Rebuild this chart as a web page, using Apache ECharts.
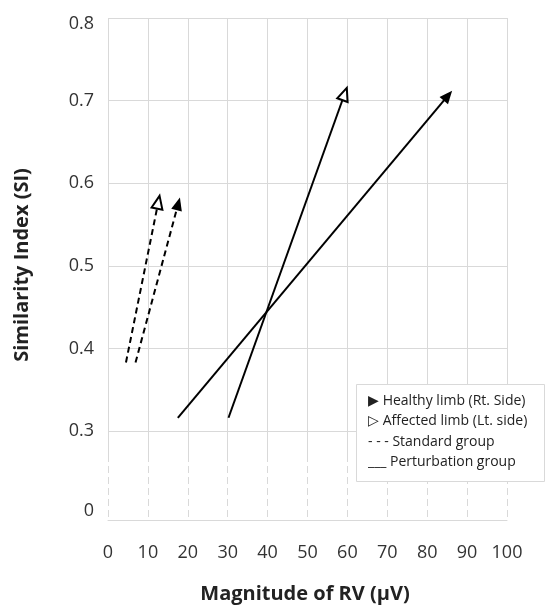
<!DOCTYPE html>
<html>
<head>
<meta charset="utf-8">
<script src="https://cdn.jsdelivr.net/npm/echarts@6/dist/echarts.min.js"></script>
<style>
  html, body { margin: 0; padding: 0; background: #fff; }
  #chart { width: 545px; height: 605px; }
</style>
</head>
<body>
<div id="chart"></div>
<script>
// each arrow: [start, end] in (RV magnitude, SI)
const stdAffectedX = [4.5, 12.6];
const stdAffectedY = [0.383, 0.577];
const stdHealthyX = [6.9, 17.6];
const stdHealthyY = [0.383, 0.575];
const pertHealthyX = [17.5, 85.2];
const pertHealthyY = [0.316, 0.706];
const pertAffectedX = [30.2, 59.3];
const pertAffectedY = [0.316, 0.708];

const legendIcons = ['\u25B6', '\u25B7', '- - -', '___'];
const legendNames = ['Healthy limb (Rt. Side)', 'Affected limb (Lt. side)', 'Standard group', 'Perturbation group'];

const FONT = 'Open Sans';
const GRID_COLOR = '#d9d9d9';
const LABEL_COLOR = '#333';

const arrow = (name, xs, ys, dashed, empty) => ({
  name: name,
  type: 'line',
  xAxisIndex: 0,
  yAxisIndex: 0,
  data: xs.map((x, i) => [x, ys[i]]),
  symbol: 'none',
  lineStyle: { opacity: 0 },
  animation: false,
  markLine: {
    silent: true,
    animation: false,
    symbol: ['none', empty ? 'emptyTriangle' : 'triangle'],
    symbolSize: [11, 13],
    label: { show: false },
    lineStyle: { color: '#000', width: 2, type: dashed ? [6, 4] : 'solid' },
    data: [[{ coord: [xs[0], ys[0]] }, { coord: [xs[1], ys[1]] }]],
  },
});

const xAxisBase = (gridIndex, splitType, showLabels) => ({
  type: 'value',
  gridIndex: gridIndex,
  min: 0,
  max: 100,
  interval: 10,
  axisLine: { show: showLabels, lineStyle: { color: GRID_COLOR, width: 1 } },
  axisTick: { show: false },
  axisLabel: { show: showLabels, margin: 24, fontFamily: FONT, fontSize: 18, color: LABEL_COLOR },
  splitLine: { show: true, lineStyle: { color: GRID_COLOR, width: 1, type: splitType } },
});

const chart = echarts.init(document.getElementById('chart'), null, { renderer: 'canvas' });
chart.setOption({
  animation: false,
  backgroundColor: '#fff',
  grid: [
    { left: 108, right: 38, top: 18, height: 413 },
    { left: 108, right: 38, top: 431, height: 24 },
    { left: 108, right: 38, top: 455, height: 65 },
  ],
  xAxis: [
    xAxisBase(0, 'solid', false),
    xAxisBase(1, 'solid', false),
    xAxisBase(2, [7, 4], true),
  ],
  yAxis: [
    {
      type: 'value',
      gridIndex: 0,
      min: 0.3,
      max: 0.8,
      interval: 0.1,
      axisLine: { show: false },
      axisTick: { show: false },
      axisLabel: {
        margin: 14,
        fontFamily: FONT,
        fontSize: 18,
        color: LABEL_COLOR,
        formatter: v => (v > 0.79 ? '{top|0.8}' : v.toFixed(1)),
        rich: { top: { fontFamily: FONT, fontSize: 18, color: LABEL_COLOR, padding: [12, 0, 0, 0] } },
      },
      splitLine: { show: true, lineStyle: { color: GRID_COLOR, width: 1 } },
    },
    {
      type: 'value',
      gridIndex: 1,
      min: 0,
      max: 1,
      axisLine: { show: false },
      axisTick: { show: false },
      axisLabel: { show: false },
      splitLine: { show: false },
    },
    {
      type: 'value',
      gridIndex: 2,
      min: 0,
      max: 1,
      interval: 1,
      axisLine: { show: false },
      axisTick: { show: false },
      axisLabel: {
        margin: 14,
        fontFamily: FONT,
        fontSize: 18,
        color: LABEL_COLOR,
        verticalAlign: 'bottom',
        formatter: v => (v === 0 ? '0' : ''),
      },
      splitLine: { show: false },
    },
  ],
  series: [
    arrow('Standard affected', stdAffectedX, stdAffectedY, true, true),
    arrow('Standard healthy', stdHealthyX, stdHealthyY, true, false),
    arrow('Perturbation healthy', pertHealthyX, pertHealthyY, false, false),
    arrow('Perturbation affected', pertAffectedX, pertAffectedY, false, true),
  ],
  graphic: [
    {
      type: 'text',
      z: 100,
      x: 22,
      y: 265,
      rotation: Math.PI / 2,
      style: {
        text: 'Similarity Index (SI)',
        font: 'bold 20px ' + FONT,
        fill: '#222',
        align: 'center', verticalAlign: 'middle',
        textAlign: 'center', textVerticalAlign: 'middle',
      },
    },
    {
      type: 'text',
      z: 100,
      x: 305,
      y: 594,
      style: {
        text: 'Magnitude of RV (\u03BCV)',
        font: 'bold 20px ' + FONT,
        fill: '#222',
        align: 'center', verticalAlign: 'middle',
        textAlign: 'center', textVerticalAlign: 'middle',
      },
    },
    {
      type: 'rect',
      z: 100,
      shape: { x: 356.5, y: 384.5, width: 188, height: 97 },
      style: { fill: '#fff', stroke: GRID_COLOR, lineWidth: 1 },
    },
  ].concat(legendNames.map((name, i) => ({
    type: 'text',
    z: 101,
    x: 368,
    y: 401 + i * 20.3,
    style: {
      text: legendIcons[i] + ' ' + name,
      font: '14px ' + FONT,
      fill: '#222',
      align: 'left', verticalAlign: 'middle',
      textAlign: 'left', textVerticalAlign: 'middle',
    },
  }))),
});
</script>
</body>
</html>
